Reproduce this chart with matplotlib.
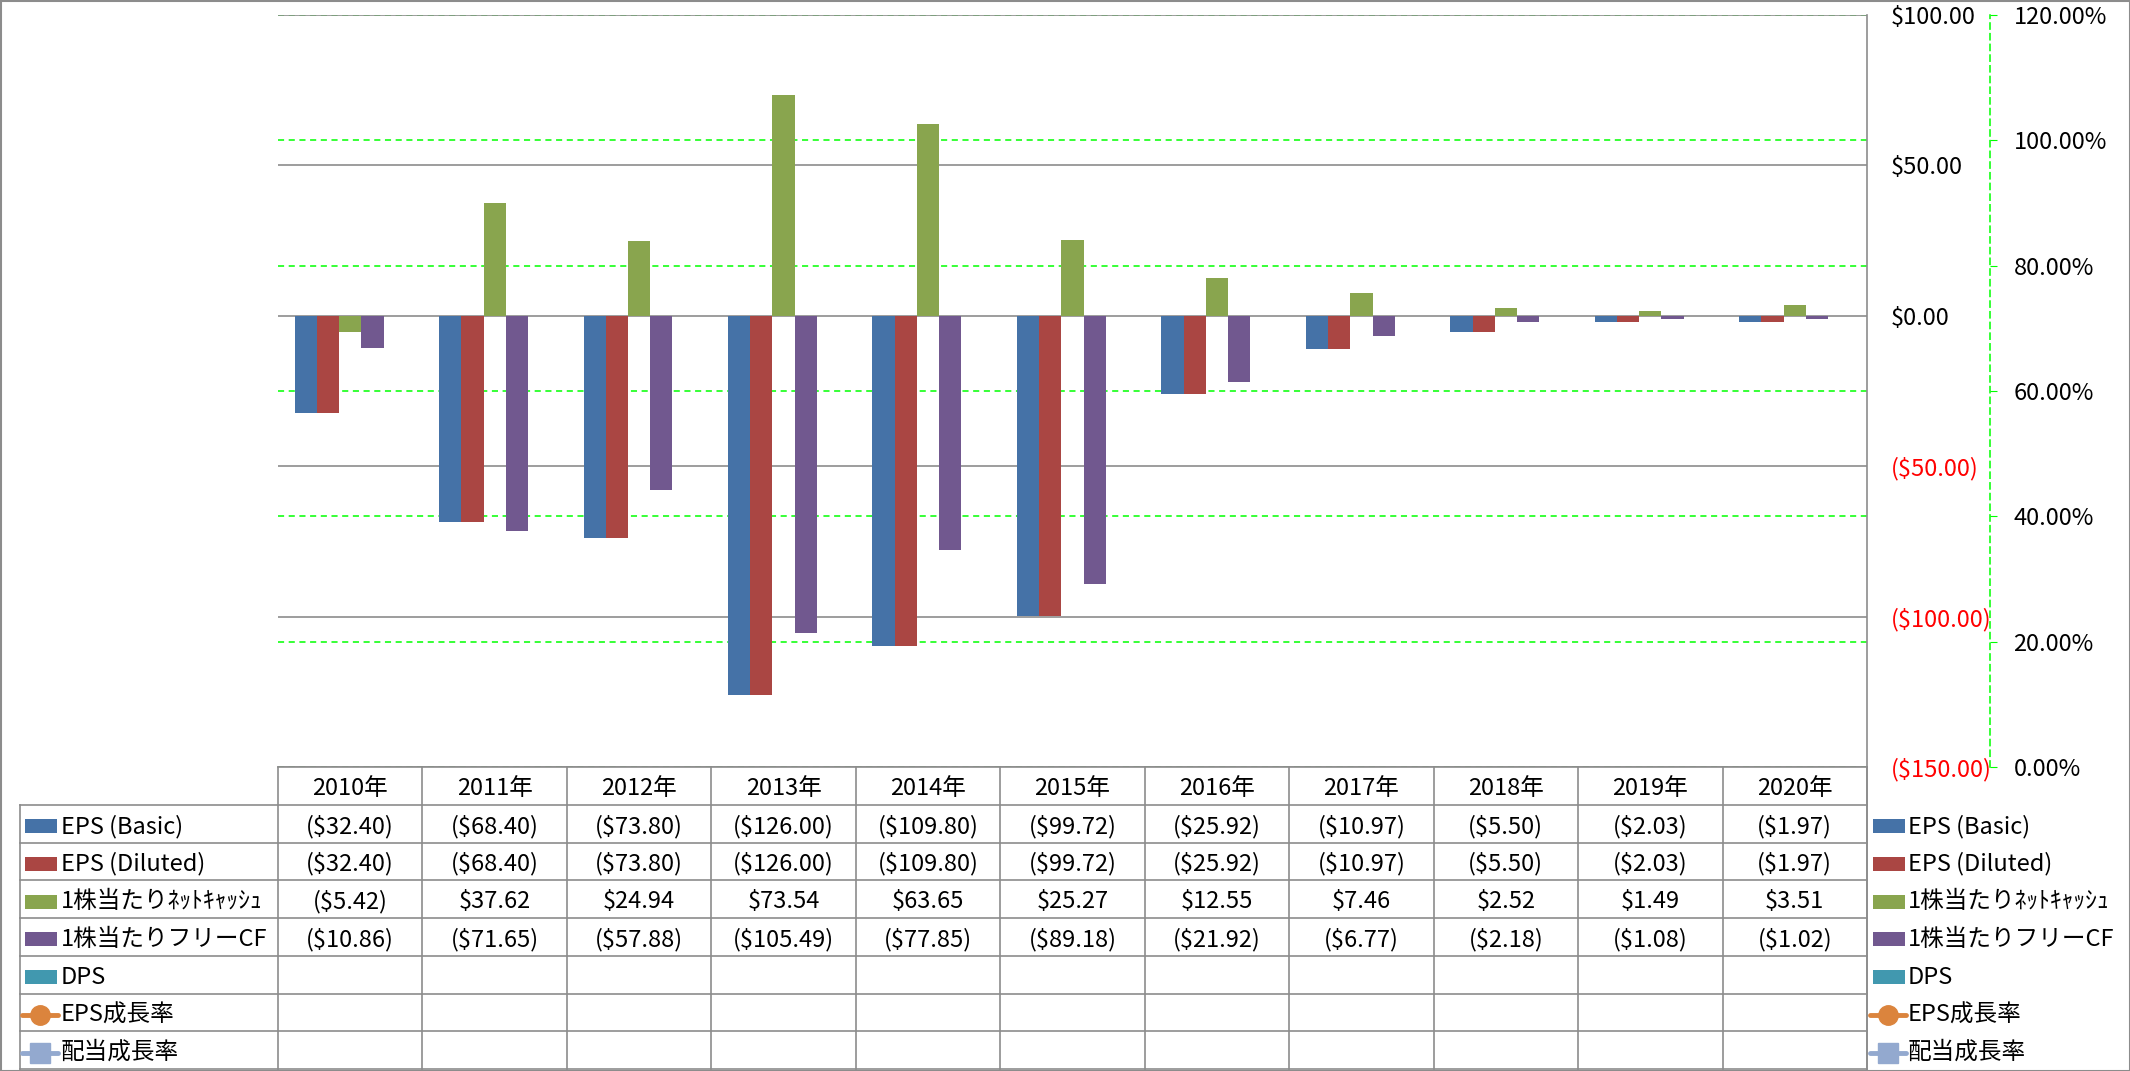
import numpy as np
import matplotlib.pyplot as plt
from matplotlib.patches import Rectangle

plt.rcParams['font.family'] = ['Noto Sans CJK JP', 'DejaVu Sans']

# データ
years = ['2010年', '2011年', '2012年', '2013年', '2014年', '2015年',
         '2016年', '2017年', '2018年', '2019年', '2020年']
eps_basic = [-32.40, -68.40, -73.80, -126.00, -109.80, -99.72, -25.92, -10.97, -5.50, -2.03, -1.97]
eps_diluted = [-32.40, -68.40, -73.80, -126.00, -109.80, -99.72, -25.92, -10.97, -5.50, -2.03, -1.97]
net_cash = [-5.42, 37.62, 24.94, 73.54, 63.65, 25.27, 12.55, 7.46, 2.52, 1.49, 3.51]
free_cf = [-10.86, -71.65, -57.88, -105.49, -77.85, -89.18, -21.92, -6.77, -2.18, -1.08, -1.02]
dps = []
eps_growth = []
div_growth = []

names = ['EPS (Basic)', 'EPS (Diluted)', '1株当たりﾈｯﾄｷｬｯｼｭ', '1株当たりフリーCF',
         'DPS', 'EPS成長率', '配当成長率']
series = [eps_basic, eps_diluted, net_cash, free_cf, dps, eps_growth, div_growth]
colors = ['#4572A7', '#AA4643', '#89A54E', '#71588F', '#4198AF', '#DB843D', '#93A9CF']
kinds = ['bar', 'bar', 'bar', 'bar', 'bar', 'circle', 'square']

usd_ticks = [-150, -100, -50, 0, 50, 100]
pct_ticks = [0, 20, 40, 60, 80, 100, 120]

W, H = 2130, 1071
GRAY = '#8c8c8c'
LIME = '#00ff00'
FS = 17

fig = plt.figure(figsize=(W / 100, H / 100), dpi=100)


def box(x0, y0, x1, y1):
    return [x0 / W, 1 - y1 / H, (x1 - x0) / W, (y1 - y0) / H]


PL, PR, PT, PB = 278, 1867, 15, 767
ax = fig.add_axes(box(PL, PT, PR, PB))
ax2 = ax.twinx()
ax.set_zorder(ax2.get_zorder() + 1)
ax.patch.set_visible(False)

# 棒グラフ（5系列分の枠、DPSは空）
x = np.arange(len(years))
w = 1 / 6.5
for k in range(5):
    if len(series[k]):
        ax.bar(x + (k - 2) * w, series[k], w, color=colors[k], zorder=2)

ax.set_xlim(-0.5, len(years) - 0.5)
ax.set_ylim(-150, 100)
ax.set_xticks([])
labels = ['(${:.2f})'.format(-v) if v < 0 else '${:.2f}'.format(v) for v in usd_ticks]
ax.set_yticks(usd_ticks, labels)
ax.yaxis.tick_right()
for t, v in zip(ax.get_yticklabels(), usd_ticks):
    t.set_color('red' if v < 0 else 'black')
ax.tick_params(axis='y', length=0, pad=17, labelsize=FS)
ax.grid(axis='y', color=GRAY, lw=1.2, zorder=0)
ax.set_axisbelow(True)
for s in ['top', 'left', 'bottom', 'right']:
    ax.spines[s].set_visible(False)

# 第2軸（%）
ax2.set_ylim(0, 120)
ax2.set_yticks(pct_ticks, ['{:.2f}%'.format(v) for v in pct_ticks])
ax2.tick_params(axis='y', length=5, color=LIME, pad=12, labelsize=FS)
ax2.grid(axis='y', color=LIME, lw=1.1, ls=(0, (4, 3)))
ax2.spines['right'].set_position(('outward', 88.5))
ax2.spines['right'].set_color(LIME)
ax2.spines['right'].set_linestyle((0, (4, 3)))
ax2.spines['right'].set_linewidth(1.1)
for s in ['top', 'left', 'bottom']:
    ax2.spines[s].set_visible(False)

# データテーブルと凡例
tax = fig.add_axes([0, 0, 1, 1])
tax.set_xlim(0, W)
tax.set_ylim(H, 0)
tax.axis('off')

cat = (PR - PL) / len(years)
rows = [PB + i * (1069 - PB) / 8 for i in range(9)]
LX = 20
TY = 2.5  # 文字の縦位置の微調整


def col(c):
    return PL + c * cat


def fmt(v):
    return '(${:.2f})'.format(-v) if v < 0 else '${:.2f}'.format(v)


lw = 1.2
tax.plot([PL, PR], [rows[0], rows[0]], color=GRAY, lw=lw)
for r in rows[1:]:
    tax.plot([LX, PR], [r, r], color=GRAY, lw=lw)
for c in range(len(years) + 1):
    tax.plot([col(c), col(c)], [rows[0], rows[8]], color=GRAY, lw=lw)
tax.plot([LX, LX], [rows[1], rows[8]], color=GRAY, lw=lw)
tax.plot([PR, PR], [PT, H], color=GRAY, lw=lw)

for i, yr in enumerate(years):
    tax.text(col(i + 0.5), (rows[0] + rows[1]) / 2 + TY, yr, ha='center', va='center', fontsize=FS)

for r, (name, vals, colr, kind) in enumerate(zip(names, series, colors, kinds)):
    yc = (rows[r + 1] + rows[r + 2]) / 2 + TY
    for i, v in enumerate(vals):
        tax.text(col(i + 0.5), yc, fmt(v), ha='center', va='center', fontsize=FS)
    for x0, x1, tx in [(25, 57, 61), (1873, 1905, 1908)]:
        if kind == 'bar':
            tax.add_patch(Rectangle((x0, yc - 7), x1 - x0, 14, color=colr, lw=0))
        else:
            mk = 'o' if kind == 'circle' else 's'
            tax.plot([x0 - 3, x1 + 1], [yc, yc], color=colr, lw=3.5, solid_capstyle='round')
            tax.plot([(x0 + x1) / 2 - 1], [yc], marker=mk, markersize=14, color=colr, mec=colr)
        tax.text(tx, yc, name, ha='left', va='center', fontsize=FS)

tax.add_patch(Rectangle((0.5, 0.5), W - 1, H - 1, fill=False, ec=GRAY, lw=1.5))

fig.savefig('out.png', dpi=100)
